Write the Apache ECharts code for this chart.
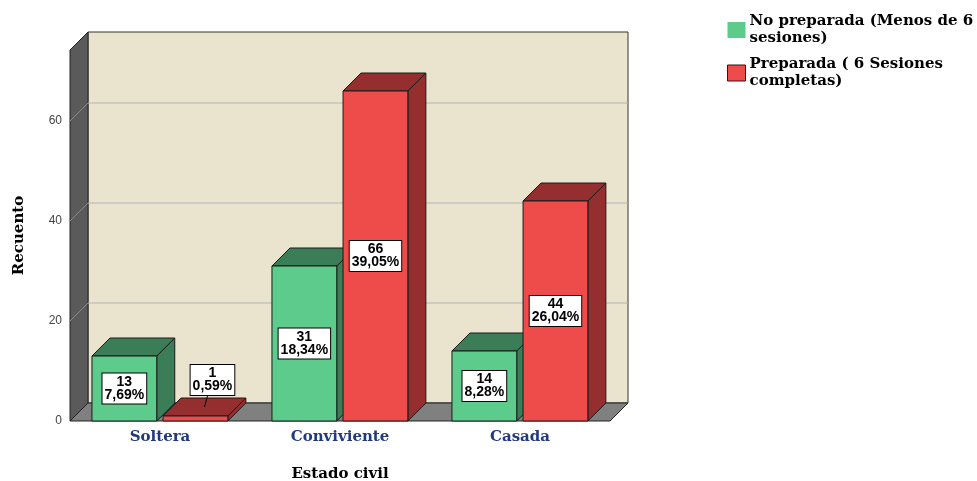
<!DOCTYPE html>
<html>
<head>
<meta charset="utf-8">
<script src="https://cdn.jsdelivr.net/npm/echarts@6/dist/echarts.min.js"></script>
<style>
  html, body { margin: 0; padding: 0; background: #ffffff; }
  #chart { width: 977px; height: 481px; }
</style>
</head>
<body>
<div id="chart"></div>
<script>
// Estado civil vs. preparación (recuento)
const categories = ['Soltera', 'Conviviente', 'Casada'];
const noPreparada = [13, 31, 14];
const preparada = [1, 66, 44];
const seriesNames = ['No preparada (Menos de 6\nsesiones)', 'Preparada ( 6 Sesiones\ncompletas)'];
const yTicks = [0, 20, 40, 60];

const total = noPreparada.concat(preparada).reduce((a, b) => a + b, 0);
const pctText = v => (v / total * 100).toFixed(2).replace('.', ',') + '%';

// 3D look: depth offset of the back plane
const DX = 18, DY = -18;
const WALL = '#eae4cf', SIDE_WALL = '#5a5a5a', FLOOR = '#808080', GRID = '#b4b4b4';
const GREEN = '#5ccb8b', GREEN_DARK = '#3a7d57';
const RED = '#ee4b4b', RED_DARK = '#952f2f';
const LABEL_FONT = 'bold 14px "Liberation Sans", Arial, sans-serif';
const SERIF = '"DejaVu Serif", serif';

function renderFrame(params, api) {
  const cs = params.coordSys;
  const L = cs.x, R = cs.x + cs.width, T = cs.y, B = cs.y + cs.height;
  const children = [
    { type: 'polygon', shape: { points: [[L + DX, T + DY], [R + DX, T + DY], [R + DX, B + DY], [L + DX, B + DY]] },
      style: { fill: WALL, stroke: '#333', lineWidth: 1 } },
    { type: 'polygon', shape: { points: [[L, T], [L + DX, T + DY], [L + DX, B + DY], [L, B]] },
      style: { fill: SIDE_WALL, stroke: '#222', lineWidth: 1 } },
    { type: 'polygon', shape: { points: [[L, B], [L + DX, B + DY], [R + DX, B + DY], [R, B]] },
      style: { fill: FLOOR, stroke: '#222', lineWidth: 1 } }
  ];
  yTicks.filter(t => t > 0).forEach(t => {
    const y = api.coord([0, t])[1];
    children.push({ type: 'line', shape: { x1: L + DX, y1: y + DY, x2: R + DX, y2: y + DY },
      style: { stroke: GRID, lineWidth: 1 } });
    children.push({ type: 'line', shape: { x1: L, y1: y, x2: L + DX, y2: y + DY },
      style: { stroke: '#8a8a8a', lineWidth: 1 } });
  });
  return { type: 'group', children };
}

function barRenderer(slot, front, dark) {
  return function (params, api) {
    const ci = api.value(0), v = api.value(1);
    const top = api.coord([ci, v]);
    const base = api.coord([ci, 0]);
    const bw = api.size([1, 0])[0];
    const w = 0.36 * bw;
    const x0 = slot === 0 ? top[0] - 0.378 * bw : top[0] + 0.017 * bw;
    const x1 = x0 + w;
    const yT = top[1], yB = base[1];
    const edge = { stroke: '#1a1a1a', lineWidth: 1 };
    const children = [
      { type: 'polygon', shape: { points: [[x1, yT], [x1 + DX, yT + DY], [x1 + DX, yB + DY], [x1, yB]] },
        style: Object.assign({ fill: dark }, edge) },
      { type: 'polygon', shape: { points: [[x0, yT], [x0 + DX, yT + DY], [x1 + DX, yT + DY], [x1, yT]] },
        style: Object.assign({ fill: dark }, edge) },
      { type: 'rect', shape: { x: x0, y: yT, width: w, height: yB - yT },
        style: Object.assign({ fill: front }, edge) }
    ];
    const text = v + '\n' + pctText(v);
    const labelStyle = {
      text, font: LABEL_FONT, fill: '#000', align: 'center', verticalAlign: 'middle',
      lineHeight: 13, backgroundColor: '#fff', borderColor: '#000', borderWidth: 1, padding: [2, 2]
    };
    if (yB - yT > 40) {
      children.push({ type: 'text', style: Object.assign({ x: (x0 + x1) / 2, y: (yT + yB) / 2 }, labelStyle) });
    } else {
      // short bar: label sits above with a leader line to the top face
      const cx = (x0 + x1) / 2 + DX / 2, cy = yT + DY / 2;
      children.push({ type: 'line', shape: { x1: cx, y1: cy, x2: cx + 3, y2: cy - 11 },
        style: { stroke: '#000', lineWidth: 1 } });
      children.push({ type: 'text', style: Object.assign({ x: cx + 8, y: cy - 27 }, labelStyle) });
    }
    return { type: 'group', children };
  };
}

const chart = echarts.init(document.getElementById('chart'), null, { renderer: 'canvas' });
chart.setOption({
  backgroundColor: '#ffffff',
  animation: false,
  grid: { left: 70, top: 50, width: 540, height: 371, outerBoundsMode: 'none', containLabel: false },
  legend: {
    orient: 'vertical', left: 727, top: 13, padding: 0, itemGap: 9, itemWidth: 18, itemHeight: 16,
    icon: 'rect',
    textStyle: { fontFamily: SERIF, fontWeight: 'bold', fontSize: 15, color: '#000', lineHeight: 17, padding: [0, 0, 0, -1] },
    data: [
      { name: seriesNames[0], itemStyle: { color: GREEN, borderWidth: 0 } },
      { name: seriesNames[1], itemStyle: { color: RED, borderColor: '#3a1010', borderWidth: 1 } }
    ]
  },
  xAxis: {
    type: 'category', data: categories,
    axisLine: { show: false }, axisTick: { show: false }, splitLine: { show: false },
    axisLabel: { margin: 9, color: '#213a7d', fontFamily: SERIF, fontWeight: 'bold', fontSize: 15 },
    name: 'Estado civil', nameLocation: 'middle', nameGap: 46,
    nameTextStyle: { color: '#000', fontFamily: SERIF, fontWeight: 'bold', fontSize: 15 }
  },
  yAxis: {
    type: 'value', min: 0, max: 74.2, interval: 20,
    axisLine: { show: false }, axisTick: { show: false }, splitLine: { show: false },
    axisLabel: {
      margin: 8, color: '#444', fontFamily: '"Liberation Sans", Arial, sans-serif', fontSize: 12,
      showMaxLabel: false,
      formatter: v => (yTicks.indexOf(v) >= 0 ? String(v) : '')
    },
    name: 'Recuento', nameLocation: 'middle', nameGap: 43,
    nameTextStyle: { color: '#000', fontFamily: SERIF, fontWeight: 'bold', fontSize: 15 }
  },
  series: [
    { type: 'custom', name: '__frame', z: 1, silent: true, renderItem: renderFrame, data: [[0, 0]] },
    { type: 'custom', name: seriesNames[0], z: 2, itemStyle: { color: GREEN },
      renderItem: barRenderer(0, GREEN, GREEN_DARK), data: noPreparada.map((v, i) => [i, v]) },
    { type: 'custom', name: seriesNames[1], z: 3, itemStyle: { color: RED },
      renderItem: barRenderer(1, RED, RED_DARK), data: preparada.map((v, i) => [i, v]) }
  ]
});
</script>
</body>
</html>
